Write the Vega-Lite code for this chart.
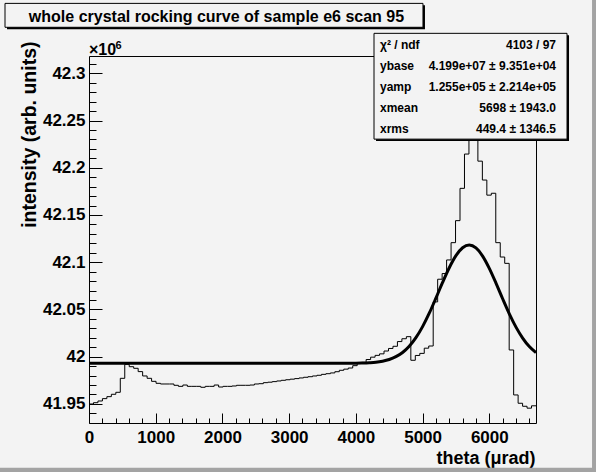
{
  "$schema": "https://vega.github.io/schema/vega-lite/v6.json",
  "width": 447,
  "height": 367,
  "autosize": {"type": "none"},
  "padding": {"left": 89, "top": 56, "right": 60, "bottom": 49},
  "background": "#f3f3f3",
  "config": {
    "view": {"stroke": "black", "strokeWidth": 1},
    "axis": {"grid": false, "domain": false, "tickColor": "black", "tickWidth": 1, "labelColor": "black", "titleColor": "black", "labelFont": "Liberation Sans", "labelFontWeight": "bold", "labelFontSize": 17, "titleFont": "Liberation Sans", "titleFontWeight": "bold", "titleFontSize": 18, "labelOverlap": false, "labelFlush": false, "labelBound": false}
  },
  "datasets": {
    "hist": [
      {"theta": 0, "intensity": 41.9499}, {"theta": 67, "intensity": 41.9513}, {"theta": 134, "intensity": 41.9531}, {"theta": 201, "intensity": 41.9556},
      {"theta": 268, "intensity": 41.9577}, {"theta": 335, "intensity": 41.9602}, {"theta": 402, "intensity": 41.9623}, {"theta": 469, "intensity": 41.9771},
      {"theta": 536, "intensity": 41.9919}, {"theta": 603, "intensity": 41.9894}, {"theta": 670, "intensity": 41.9877}, {"theta": 737, "intensity": 41.9842},
      {"theta": 804, "intensity": 41.9796}, {"theta": 871, "intensity": 41.9771}, {"theta": 938, "intensity": 41.9739}, {"theta": 1005, "intensity": 41.9718},
      {"theta": 1072, "intensity": 41.9711}, {"theta": 1139, "intensity": 41.9711}, {"theta": 1206, "intensity": 41.9711}, {"theta": 1273, "intensity": 41.9697},
      {"theta": 1340, "intensity": 41.9686}, {"theta": 1407, "intensity": 41.9700}, {"theta": 1474, "intensity": 41.9686}, {"theta": 1541, "intensity": 41.9686},
      {"theta": 1608, "intensity": 41.9686}, {"theta": 1675, "intensity": 41.9676}, {"theta": 1742, "intensity": 41.9686}, {"theta": 1809, "intensity": 41.9686},
      {"theta": 1876, "intensity": 41.9700}, {"theta": 1943, "intensity": 41.9679}, {"theta": 2010, "intensity": 41.9686}, {"theta": 2077, "intensity": 41.9686},
      {"theta": 2144, "intensity": 41.9690}, {"theta": 2211, "intensity": 41.9697}, {"theta": 2278, "intensity": 41.9697}, {"theta": 2345, "intensity": 41.9697},
      {"theta": 2412, "intensity": 41.9700}, {"theta": 2479, "intensity": 41.9711}, {"theta": 2546, "intensity": 41.9714}, {"theta": 2613, "intensity": 41.9725},
      {"theta": 2680, "intensity": 41.9730}, {"theta": 2747, "intensity": 41.9736}, {"theta": 2814, "intensity": 41.9743}, {"theta": 2881, "intensity": 41.9750},
      {"theta": 2948, "intensity": 41.9756}, {"theta": 3015, "intensity": 41.9762}, {"theta": 3082, "intensity": 41.9768}, {"theta": 3149, "intensity": 41.9775},
      {"theta": 3216, "intensity": 41.9782}, {"theta": 3283, "intensity": 41.9788}, {"theta": 3350, "intensity": 41.9796}, {"theta": 3417, "intensity": 41.9803},
      {"theta": 3484, "intensity": 41.9813}, {"theta": 3551, "intensity": 41.9820}, {"theta": 3618, "intensity": 41.9828}, {"theta": 3685, "intensity": 41.9841},
      {"theta": 3752, "intensity": 41.9856}, {"theta": 3819, "intensity": 41.9868}, {"theta": 3886, "intensity": 41.9880}, {"theta": 3953, "intensity": 41.9905},
      {"theta": 4020, "intensity": 41.9935}, {"theta": 4087, "intensity": 41.9940}, {"theta": 4154, "intensity": 41.9970}, {"theta": 4221, "intensity": 41.9995},
      {"theta": 4288, "intensity": 42.0014}, {"theta": 4355, "intensity": 42.0030}, {"theta": 4422, "intensity": 42.0060}, {"theta": 4489, "intensity": 42.0087},
      {"theta": 4556, "intensity": 42.0110}, {"theta": 4623, "intensity": 42.0160}, {"theta": 4690, "intensity": 42.0190}, {"theta": 4757, "intensity": 42.0212},
      {"theta": 4824, "intensity": 41.9962}, {"theta": 4891, "intensity": 42.0013}, {"theta": 4958, "intensity": 42.0035}, {"theta": 5025, "intensity": 42.0090},
      {"theta": 5092, "intensity": 42.0113}, {"theta": 5159, "intensity": 42.0580}, {"theta": 5226, "intensity": 42.0820}, {"theta": 5293, "intensity": 42.0880},
      {"theta": 5360, "intensity": 42.1024}, {"theta": 5427, "intensity": 42.1207}, {"theta": 5494, "intensity": 42.1440}, {"theta": 5561, "intensity": 42.1782},
      {"theta": 5628, "intensity": 42.2145}, {"theta": 5695, "intensity": 42.2600}, {"theta": 5762, "intensity": 42.2550}, {"theta": 5829, "intensity": 42.2070},
      {"theta": 5896, "intensity": 42.1870}, {"theta": 5963, "intensity": 42.1710}, {"theta": 6030, "intensity": 42.1730}, {"theta": 6097, "intensity": 42.1207},
      {"theta": 6164, "intensity": 42.1055}, {"theta": 6231, "intensity": 42.0988}, {"theta": 6298, "intensity": 42.0071}, {"theta": 6365, "intensity": 41.9595},
      {"theta": 6432, "intensity": 41.9507}, {"theta": 6499, "intensity": 41.9475}, {"theta": 6566, "intensity": 41.9455}, {"theta": 6633, "intensity": 41.9480},
      {"theta": 6700, "intensity": 41.9480}
    ],
    "fit": [
      {"theta": 0, "fit": 41.9930}, {"theta": 3500, "fit": 41.9930}, {"theta": 4000, "fit": 41.9931}, {"theta": 4100, "fit": 41.9933},
      {"theta": 4200, "fit": 41.9936}, {"theta": 4300, "fit": 41.9941}, {"theta": 4400, "fit": 41.9952}, {"theta": 4500, "fit": 41.9970},
      {"theta": 4600, "fit": 42.0000}, {"theta": 4700, "fit": 42.0044}, {"theta": 4800, "fit": 42.0110}, {"theta": 4900, "fit": 42.0201},
      {"theta": 5000, "fit": 42.0318}, {"theta": 5100, "fit": 42.0460}, {"theta": 5200, "fit": 42.0620}, {"theta": 5300, "fit": 42.0786},
      {"theta": 5400, "fit": 42.0941}, {"theta": 5500, "fit": 42.1069}, {"theta": 5600, "fit": 42.1153}, {"theta": 5700, "fit": 42.1182},
      {"theta": 5800, "fit": 42.1151}, {"theta": 5900, "fit": 42.1065}, {"theta": 6000, "fit": 42.0935}, {"theta": 6100, "fit": 42.0779},
      {"theta": 6200, "fit": 42.0613}, {"theta": 6300, "fit": 42.0454}, {"theta": 6400, "fit": 42.0313}, {"theta": 6500, "fit": 42.0197},
      {"theta": 6600, "fit": 42.0107}, {"theta": 6700, "fit": 42.0042}
    ]
  },
  "resolve": {"scale": {"x": "independent", "y": "independent"}, "axis": {"x": "independent", "y": "independent"}},
  "layer": [
    {
      "layer": [
        {
          "data": {"name": "hist"},
          "mark": {"type": "line", "stroke": "black", "strokeWidth": 1, "interpolate": "step-after"},
          "encoding": {
            "x": {"field": "theta", "type": "quantitative",
              "scale": {"domain": [0, 6700], "nice": false, "zero": false},
              "axis": {
                "orient": "bottom",
                "title": "theta (μrad)", "titleAnchor": null, "titleX": 446, "titleY": 40, "titleAlign": "right", "titleBaseline": "alphabetic",
                "values": [0, 1000, 2000, 3000, 4000, 5000, 6000],
                "format": "d",
                "tickSize": -10,
                "labelPadding": 16, "labelOverlap": false, "labelFlush": false, "labelBound": false
              }
            },
            "y": {"field": "intensity", "type": "quantitative",
              "scale": {"domain": [41.9298, 42.3183], "nice": false, "zero": false},
              "axis": {
                "orient": "left",
                "title": "intensity (arb. units)", "titleFontSize": 19.5, "titleAnchor": null, "titleAngle": -90, "titleX": -60, "titleY": -15, "titleAlign": "right", "titleBaseline": "middle",
                "values": [41.95, 42.0, 42.05, 42.1, 42.15, 42.2, 42.25, 42.3],
                "format": ".2~f",
                "tickSize": -13,
                "labelPadding": 17, "labelOverlap": false, "labelFlush": false, "labelBound": false
              }
            }
          }
        },
        {
          "data": {"name": "fit"},
          "mark": {"type": "line", "stroke": "black", "strokeWidth": 3, "interpolate": "monotone"},
          "encoding": {
            "x": {"field": "theta", "type": "quantitative"},
            "y": {"field": "fit", "type": "quantitative"}
          }
        },
        {
          "data": {"values": [{}]},
          "layer": [
            {
              "mark": {"type": "rect", "fill": "black"},
              "encoding": {
                "x": {"datum": 4302, "type": "quantitative"}, "x2": {"datum": 7195},
                "y": {"datum": 42.3402, "type": "quantitative"}, "y2": {"datum": 42.2282}
              }
            },
            {
              "mark": {"type": "rect", "fill": "#f3f3f3", "stroke": "black", "strokeWidth": 1},
              "encoding": {
                "x": {"datum": 4272, "type": "quantitative"}, "x2": {"datum": 7165},
                "y": {"datum": 42.3423, "type": "quantitative"}, "y2": {"datum": 42.2303}
              }
            },
            {
              "mark": {"type": "text", "font": "Liberation Sans", "fontWeight": "bold", "fontSize": 12, "align": "left", "baseline": "top", "lineHeight": 21.1, "color": "black"},
              "encoding": {
                "x": {"datum": 4362, "type": "quantitative"},
                "y": {"datum": 42.3357, "type": "quantitative"},
                "text": {"value": ["χ² / ndf", "ybase", "yamp", "xmean", "xrms"]}
              }
            },
            {
              "mark": {"type": "text", "font": "Liberation Sans", "fontWeight": "bold", "fontSize": 12, "align": "right", "baseline": "top", "lineHeight": 21.1, "color": "black"},
              "encoding": {
                "x": {"datum": 7000, "type": "quantitative"},
                "y": {"datum": 42.3357, "type": "quantitative"},
                "text": {"value": ["4103 / 97", "4.199e+07 ± 9.351e+04", "1.255e+05 ± 2.214e+05", "5698 ± 1943.0", "449.4 ± 1346.5"]}
              }
            },
            {
              "mark": {"type": "rect", "fill": "black"},
              "encoding": {
                "x": {"datum": -1229, "type": "quantitative"}, "x2": {"datum": 5036},
                "y": {"datum": 42.3719, "type": "quantitative"}, "y2": {"datum": 42.3465}
              }
            },
            {
              "mark": {"type": "rect", "fill": "#f3f3f3", "stroke": "black", "strokeWidth": 1},
              "encoding": {
                "x": {"datum": -1259, "type": "quantitative"}, "x2": {"datum": 5006},
                "y": {"datum": 42.3740, "type": "quantitative"}, "y2": {"datum": 42.3487}
              }
            },
            {
              "mark": {"type": "text", "font": "Liberation Sans", "fontWeight": "bold", "fontSize": 16, "align": "center", "baseline": "alphabetic", "color": "black"},
              "encoding": {
                "x": {"datum": 1911, "type": "quantitative"},
                "y": {"datum": 42.3543, "type": "quantitative"},
                "text": {"value": "whole crystal rocking curve of sample e6 scan 95"}
              }
            },
            {
              "mark": {"type": "text", "font": "Liberation Sans", "fontWeight": "bold", "fontSize": 16, "align": "left", "baseline": "alphabetic", "color": "black"},
              "encoding": {
                "x": {"datum": 0, "type": "quantitative"},
                "y": {"datum": 42.3191, "type": "quantitative"},
                "text": {"value": "×10"}
              }
            },
            {
              "mark": {"type": "text", "font": "Liberation Sans", "fontWeight": "bold", "fontSize": 11, "align": "left", "baseline": "alphabetic", "color": "black"},
              "encoding": {
                "x": {"datum": 397, "type": "quantitative"},
                "y": {"datum": 42.3254, "type": "quantitative"},
                "text": {"value": "6"}
              }
            },
            {
              "mark": {"type": "rect", "fill": "#a3a3a3"},
              "encoding": {
                "x": {"datum": 7540, "type": "quantitative"}, "x2": {"datum": 7700},
                "y": {"datum": 42.40, "type": "quantitative"}, "y2": {"datum": 41.86}
              }
            },
            {
              "mark": {"type": "rect", "fill": "#a3a3a3"},
              "encoding": {
                "x": {"datum": -1400, "type": "quantitative"}, "x2": {"datum": 7700},
                "y": {"datum": 41.8824, "type": "quantitative"}, "y2": {"datum": 41.86}
              }
            }
          ]
        }
      ]
    },
    {
      "data": {"name": "hist"},
      "mark": {"type": "line", "strokeOpacity": 0},
      "encoding": {
        "x": {"field": "theta", "type": "quantitative",
          "scale": {"domain": [0, 6700], "nice": false, "zero": false},
          "axis": {"orient": "bottom", "title": null, "labels": false, "tickSize": -5,
            "values": [200,400,600,800,1200,1400,1600,1800,2200,2400,2600,2800,3200,3400,3600,3800,4200,4400,4600,4800,5200,5400,5600,5800,6200,6400,6600]}
        },
        "y": {"field": "intensity", "type": "quantitative",
          "scale": {"domain": [41.9298, 42.3183], "nice": false, "zero": false},
          "axis": {"orient": "left", "title": null, "labels": false, "tickSize": -7,
            "values": [41.94,41.96,41.97,41.98,41.99,42.01,42.02,42.03,42.04,42.06,42.07,42.08,42.09,42.11,42.12,42.13,42.14,42.16,42.17,42.18,42.19,42.21,42.22,42.23,42.24,42.26,42.27,42.28,42.29,42.31]}
        }
      }
    }
  ]
}
